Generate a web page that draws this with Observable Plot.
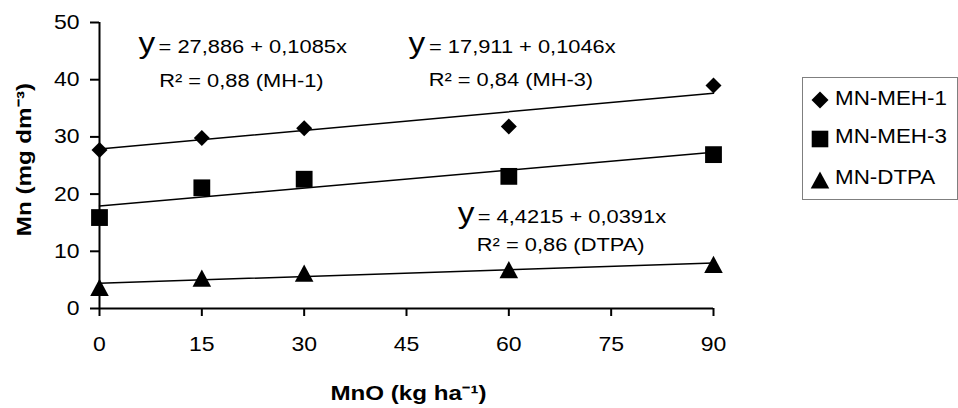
<!DOCTYPE html>
<html><head><meta charset="utf-8">
<script src="https://cdn.jsdelivr.net/npm/d3@7"></script>
<script src="https://cdn.jsdelivr.net/npm/@observablehq/plot@0.6"></script>
<style>
html,body{margin:0;padding:0;background:#fff;}
#chart{position:relative;width:958px;height:408px;font-family:"Liberation Sans",Arial,sans-serif;}
#chart svg.legend{position:absolute;left:802px;top:77px;overflow:visible;}
</style></head><body><div id="chart"></div>
<script>
// ---- data ----
const doses = [0, 15, 30, 60, 90];               // MnO (kg ha-1)
const seriesNames = ["MN-MEH-1", "MN-MEH-3", "MN-DTPA"];
const mnMeh1 = [27.7, 29.8, 31.5, 31.8, 39.0];
const mnMeh3 = [15.9, 21.1, 22.6, 23.1, 26.9];
const mnDtpa = [3.7, 5.3, 6.2, 6.8, 7.7];
const intercepts = [27.886, 17.911, 4.4215];     // from the printed equations
const slopes = [0.1085, 0.1046, 0.0391];
const eqRight = ["= 27,886 + 0,1085x", "= 17,911 + 0,1046x", "= 4,4215 + 0,0391x"];
const r2Labels = ["R\u00B2 = 0,88 (MH-1)", "R\u00B2 = 0,84 (MH-3)", "R\u00B2 = 0,86 (DTPA)"];
const xTicks = [0, 15, 30, 45, 60, 75, 90];
const yTicks = [0, 10, 20, 30, 40, 50];
const xTitle = "MnO (kg ha\u207B\u00B9)";
const yTitle = "Mn (mg dm\u207B\u00B3)";

// ---- annotation placement (data units) ----
const eqPos = [
  {yx: 5.72, rx: 8.66, cx: 20.8, b1: 44.6, b2: 38.8},
  {yx: 45.3, rx: 48.3, cx: 60.3, b1: 44.7, b2: 38.9},
  {yx: 52.5, rx: 55.45, cx: 67.6, b1: 14.9, b2: 10.0}
];

// ---- symbols (r = half extent) ----
const rad = s => Math.sqrt(s / Math.PI);
const diamond = {draw(c, s){const r = rad(s); c.moveTo(0,-r); c.lineTo(r,0); c.lineTo(0,r); c.lineTo(-r,0); c.closePath();}};
const square = {draw(c, s){const r = rad(s); c.moveTo(-r,-r); c.lineTo(r,-r); c.lineTo(r,r); c.lineTo(-r,r); c.closePath();}};
const triangle = {draw(c, s){const r = rad(s); c.moveTo(0,-r); c.lineTo(1.08*r,r); c.lineTo(-1.08*r,r); c.closePath();}};
const symbols = [diamond, square, triangle];
const symbolR = [8, 8.4, 8.6];
const seriesValues = [mnMeh1, mnMeh3, mnDtpa];

const FONT = "'Liberation Sans', Arial, Helvetica, sans-serif";
const xExt = d3.extent(doses);

const plot = Plot.plot({
  width: 958, height: 408,
  marginLeft: 99, marginRight: 245, marginTop: 22, marginBottom: 100,
  style: {fontFamily: FONT, fontSize: "20px", color: "black", background: "white", overflow: "visible"},
  x: {domain: [0, 90]},
  y: {domain: [0, 50]},
  marks: [
    Plot.axisX({ticks: xTicks, tickSize: 8, tickPadding: 20, strokeWidth: 2, fontSize: 20, label: null}),
    Plot.axisY({ticks: yTicks, tickSize: 9, tickPadding: 11, strokeWidth: 2, fontSize: 20, label: null}),
    Plot.ruleY([0], {strokeWidth: 2}),
    Plot.ruleX([0], {strokeWidth: 2}),
    ...seriesValues.map((vals, k) => Plot.line(xExt, {x: d => d, y: d => intercepts[k] + slopes[k] * d, stroke: "black", strokeWidth: 1.5})),
    ...seriesValues.map((vals, k) => Plot.dot(doses, {x: doses, y: vals, symbol: symbols[k], r: symbolR[k], fill: "black", stroke: "none"})),
    Plot.text(eqPos, {x: "yx", y: "b1", text: () => "y", textAnchor: "start", lineAnchor: "bottom", fontSize: 29}),
    Plot.text(eqPos, {x: "rx", y: "b1", text: (d, i) => eqRight[i], textAnchor: "start", lineAnchor: "bottom", fontSize: 19}),
    Plot.text(eqPos, {x: "cx", y: "b2", text: (d, i) => r2Labels[i], textAnchor: "middle", lineAnchor: "bottom", fontSize: 19}),
    Plot.text([xTitle], {frameAnchor: "bottom", textAnchor: "middle", lineAnchor: "middle", dx: 2, dy: 85, fontWeight: "bold", fontSize: 21}),
    Plot.text([yTitle], {frameAnchor: "left", textAnchor: "middle", lineAnchor: "middle", dx: -75, dy: -6, rotate: -90, fontWeight: "bold", fontSize: 21})
  ]
});

// slight horizontal stretch of the lettering, as in the reference
const S = 1.15;
plot.querySelectorAll("text").forEach(t => {
  const tr = t.getAttribute("transform");
  if (tr) t.setAttribute("transform", tr + ` scale(${S},1)`);
  else {
    const x = +t.getAttribute("x") || 0, y = +t.getAttribute("y") || 0;
    t.removeAttribute("x"); t.removeAttribute("y");
    t.setAttribute("transform", `translate(${x},${y}) scale(${S},1)`);
  }
});
document.getElementById("chart").appendChild(plot);

// ---- legend ----
const legR = [8.5, 8.3, 8.6];
const legCy = [23, 62, 103];
const legBase = [27.5, 66, 107];
const leg = d3.select("#chart").append("svg").attr("class", "legend").attr("width", 156).attr("height", 123);
leg.append("rect").attr("x", 0.5).attr("y", 0.5).attr("width", 155).attr("height", 122)
  .attr("fill", "white").attr("stroke", "#7f7f7f").attr("stroke-width", 1);
seriesNames.forEach((name, k) => {
  leg.append("path")
    .attr("transform", `translate(18,${legCy[k]})`)
    .attr("d", d3.symbol().type(symbols[k]).size(Math.PI * legR[k] * legR[k])())
    .attr("fill", "black");
  leg.append("text")
    .attr("transform", `translate(33,${legBase[k]}) scale(1.12,1)`)
    .attr("font-family", FONT).attr("font-size", 20).attr("fill", "black")
    .text(name);
});
</script></body></html>
